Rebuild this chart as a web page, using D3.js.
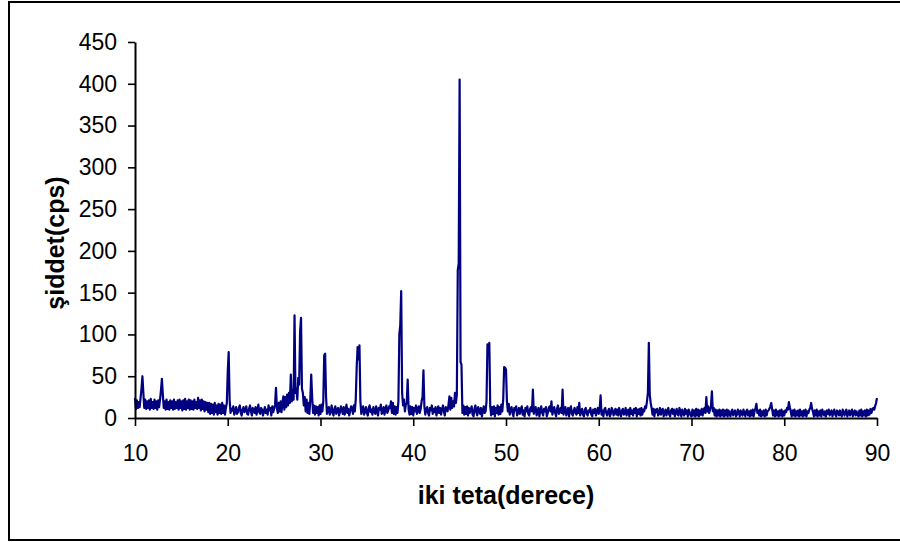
<!DOCTYPE html>
<html>
<head>
<meta charset="utf-8">
<script src="https://cdn.jsdelivr.net/npm/d3@7/dist/d3.min.js"></script>
<style>
  html, body { margin: 0; padding: 0; background: #fff; }
  svg { display: block; }
  text { font-family: "Liberation Sans", Arial, sans-serif; fill: #000; }
</style>
</head>
<body>
<svg id="chart" width="900" height="542"></svg>
<script>
// XRD scan: 2-theta from 10 to 90 degrees, one reading every 0.1 degree
const twoThetaStart = 10;
const twoThetaStep = 0.1;

// intensity (cps), each row covers 2 degrees (20 readings)
const intensity = [
  /* 10 */ 24, 11, 21, 12, 19, 13, 24, 35, 50, 30, 12, 22, 11, 20, 12, 21, 10, 23, 12, 19,
  /* 12 */ 11, 22, 12, 20, 10, 21, 13, 22, 33, 47, 28, 12, 20, 10, 22, 11, 19, 10, 21, 12,
  /* 14 */ 20, 10, 22, 11, 19, 12, 21, 10, 22, 12, 20, 9, 21, 11, 23, 10, 20, 12, 22, 10,
  /* 16 */ 21, 11, 20, 10, 22, 12, 19, 11, 24, 12, 21, 9, 22, 11, 20, 8, 19, 10, 18, 7,
  /* 18 */ 18, 5, 17, 6, 16, 4, 18, 7, 15, 4, 17, 6, 16, 5, 18, 6, 15, 4, 12, 18,
  /* 20 */ 55, 79, 22, 6, 11, 9, 14, 4, 8, 13, 5, 7, 12, 15, 6, 3, 10, 13, 7, 9,
  /* 22 */ 14, 5, 4, 11, 15, 8, 3, 12, 10, 6, 13, 4, 9, 16, 7, 5, 12, 10, 3, 8,
  /* 24 */ 13, 6, 10, 4, 15, 9, 12, 3, 14, 7, 11, 16, 36, 12, 6, 18, 8, 20, 7, 19,
  /* 26 */ 26, 10, 25, 13, 28, 15, 30, 18, 52, 20, 33, 22, 123, 30, 35, 22, 48, 40, 103, 120,
  /* 28 */ 35, 30, 15, 25, 8, 22, 6, 18, 5, 22, 52, 25, 6, 15, 4, 14, 6, 13, 3, 15,
  /* 30 */ 5, 16, 8, 20, 75, 77, 25, 5, 10, 13, 4, 8, 15, 6, 3, 11, 14, 5, 9, 12,
  /* 32 */ 3, 7, 14, 10, 5, 13, 4, 9, 16, 6, 11, 3, 8, 14, 12, 5, 15, 8, 22, 60,
  /* 34 */ 85, 70, 87, 20, 5, 11, 14, 4, 8, 13, 6, 3, 12, 15, 7, 10, 4, 13, 9, 5,
  /* 36 */ 14, 8, 3, 12, 10, 16, 5, 7, 13, 4, 11, 15, 6, 9, 14, 12, 20, 6, 18, 5,
  /* 38 */ 14, 4, 13, 6, 20, 100, 111, 152, 30, 15, 22, 8, 16, 18, 46, 10, 4, 14, 5, 13,
  /* 40 */ 3, 12, 8, 15, 5, 10, 14, 6, 11, 20, 25, 57, 14, 4, 10, 13, 6, 3, 12, 9,
  /* 42 */ 15, 5, 11, 7, 13, 3, 9, 14, 6, 12, 4, 10, 15, 8, 3, 13, 11, 8, 16, 26,
  /* 44 */ 10, 24, 12, 20, 14, 30, 18, 28, 177, 185, 405, 67, 64, 6, 15, 4, 13, 5, 14, 3,
  /* 46 */ 12, 6, 10, 14, 4, 2, 11, 15, 7, 3, 13, 9, 5, 12, 2, 8, 14, 6, 8, 20,
  /* 48 */ 88, 82, 90, 14, 3, 13, 5, 14, 2, 12, 6, 15, 4, 13, 5, 16, 8, 22, 61, 60,
  /* 50 */ 58, 20, 8, 17, 4, 10, 13, 6, 2, 12, 9, 14, 3, 7, 12, 5, 11, 14, 4, 9,
  /* 52 */ 2, 12, 8, 14, 5, 3, 11, 13, 8, 34, 5, 10, 13, 3, 7, 12, 2, 9, 14, 6,
  /* 54 */ 3, 11, 8, 13, 2, 6, 12, 14, 8, 20, 4, 9, 13, 6, 2, 11, 15, 5, 8, 12,
  /* 56 */ 6, 34, 4, 10, 13, 3, 8, 12, 2, 11, 14, 5, 3, 9, 12, 6, 4, 13, 6, 18,
  /* 58 */ 3, 8, 11, 4, 2, 10, 12, 5, 3, 9, 7, 12, 4, 2, 10, 6, 11, 3, 8, 12,
  /* 60 */ 5, 11, 27, 4, 9, 2, 10, 12, 6, 3, 8, 11, 2, 5, 12, 9, 3, 7, 11, 4,
  /* 62 */ 10, 3, 12, 7, 2, 9, 11, 4, 6, 12, 3, 8, 10, 2, 12, 5, 9, 3, 11, 6,
  /* 64 */ 12, 2, 10, 5, 11, 3, 12, 4, 10, 8, 14, 12, 20, 30, 90, 28, 18, 12, 4, 11,
  /* 66 */ 2, 10, 7, 11, 3, 5, 12, 4, 9, 11, 2, 6, 10, 3, 8, 12, 4, 2, 9, 11,
  /* 68 */ 5, 10, 2, 7, 11, 4, 3, 12, 8, 2, 10, 6, 3, 11, 5, 9, 2, 10, 7, 3,
  /* 70 */ 2, 10, 3, 9, 2, 11, 3, 10, 2, 9, 4, 11, 3, 10, 12, 6, 25, 8, 14, 6,
  /* 72 */ 10, 14, 32, 8, 12, 3, 10, 2, 9, 3, 10, 2, 9, 3, 10, 2, 9, 3, 10, 2,
  /* 74 */ 9, 5, 2, 8, 10, 3, 6, 9, 2, 4, 10, 7, 2, 9, 5, 3, 10, 6, 2, 8,
  /* 76 */ 10, 3, 8, 2, 9, 3, 10, 2, 8, 12, 17, 6, 9, 3, 10, 2, 8, 3, 9, 2,
  /* 78 */ 10, 3, 8, 9, 11, 14, 18, 10, 3, 9, 2, 10, 3, 8, 2, 9, 3, 10, 2, 8,
  /* 80 */ 3, 9, 7, 12, 10, 19, 13, 8, 2, 9, 3, 10, 2, 8, 3, 9, 2, 10, 3, 8,
  /* 82 */ 2, 9, 3, 10, 2, 8, 6, 10, 12, 18, 11, 7, 2, 9, 3, 10, 2, 8, 3, 9,
  /* 84 */ 2, 10, 6, 3, 8, 2, 9, 5, 10, 3, 7, 9, 2, 6, 10, 4, 2, 9, 7, 3,
  /* 86 */ 9, 4, 2, 10, 6, 3, 8, 10, 2, 5, 9, 3, 7, 10, 2, 6, 9, 3, 8, 4,
  /* 88 */ 2, 9, 3, 10, 2, 8, 3, 9, 2, 10, 3, 9, 4, 11, 6, 10, 12, 10, 14, 18,
  /* 90 */ 24
];

const xTicks = [10, 20, 30, 40, 50, 60, 70, 80, 90];
const yTicks = [0, 50, 100, 150, 200, 250, 300, 350, 400, 450];
const xTitle = "iki teta(derece)";
const yTitle = "şiddet(cps)";

const svg = d3.select("#chart");

// outer frame
svg.append("rect")
  .attr("x", 9).attr("y", 2)
  .attr("width", 905).attr("height", 538)
  .attr("fill", "#fff")
  .attr("stroke", "#000")
  .attr("stroke-width", 2);

const x = d3.scaleLinear().domain([10, 90]).range([135, 877]);
const y = d3.scaleLinear().domain([0, 450]).range([418, 42]);

const points = intensity.map((v, i) => [twoThetaStart + i * twoThetaStep, v]);

// pattern trace
svg.append("path")
  .datum(points)
  .attr("fill", "none")
  .attr("stroke", "#000080")
  .attr("stroke-width", 2.2)
  .attr("stroke-linejoin", "round")
  .attr("d", d3.line().x(d => x(d[0])).y(d => y(d[1])));

// axes
const yAxis = svg.append("g")
  .attr("transform", "translate(135,0)")
  .call(d3.axisLeft(y).tickValues(yTicks).tickSize(7).tickPadding(11).tickSizeOuter(0));
const xAxis = svg.append("g")
  .attr("transform", "translate(0,418)")
  .call(d3.axisBottom(x).tickValues(xTicks).tickSize(8).tickPadding(19).tickSizeOuter(0));

[yAxis, xAxis].forEach(g => {
  g.selectAll("path.domain").attr("stroke", "#000").attr("stroke-width", 2);
  g.selectAll(".tick line").attr("stroke", "#000").attr("stroke-width", 1.6);
  g.selectAll(".tick text")
    .attr("font-family", "'Liberation Sans', Arial, sans-serif")
    .attr("font-size", 23)
    .attr("fill", "#000");
});

// axis titles
svg.append("text")
  .attr("x", 506).attr("y", 504)
  .attr("text-anchor", "middle")
  .attr("font-size", 25)
  .attr("font-weight", "bold")
  .text(xTitle);

svg.append("text")
  .attr("transform", "translate(64,243) rotate(-90)")
  .attr("text-anchor", "middle")
  .attr("font-size", 25)
  .attr("font-weight", "bold")
  .text(yTitle);
</script>
</body>
</html>
